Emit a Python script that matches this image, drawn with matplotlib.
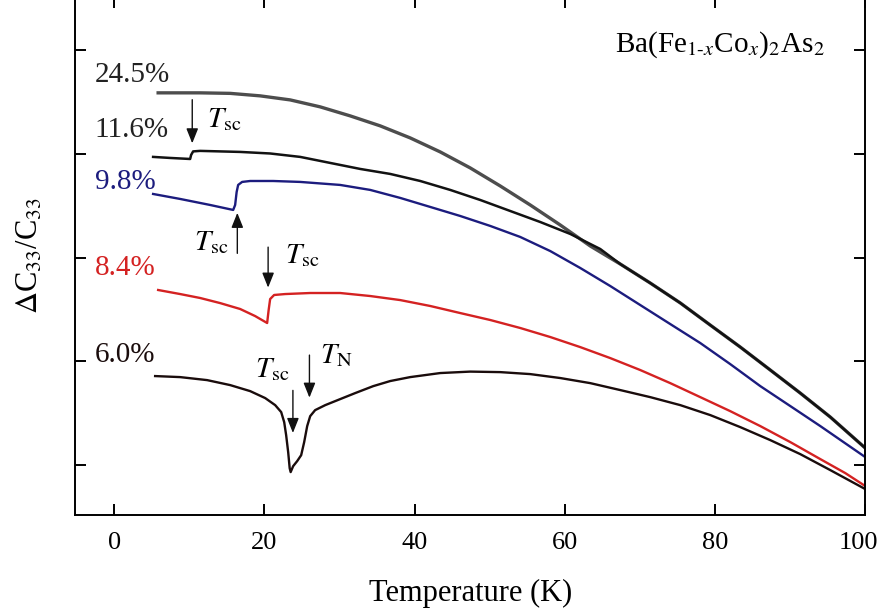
import matplotlib
matplotlib.use("Agg")
import matplotlib.pyplot as plt
import matplotlib.transforms as mtransforms

plt.rcParams['font.family'] = ['Liberation Serif', 'DejaVu Serif']
plt.rcParams['mathtext.fontset'] = 'stix'

# ---- curves: temperature (K) vs. shifted dC33/C33 (offset per doping) ----
T_245 = [5.86, 11.45, 15.45, 19.44, 23.44, 27.43, 31.43, 35.42, 39.41, 43.41, 47.40, 51.40,
         55.39, 59.39, 63.38, 67.38, 71.37, 75.37, 79.36, 83.36, 87.35, 91.34, 95.34, 100.0]
C_245 = [3.586, 3.586, 3.581, 3.557, 3.518, 3.451, 3.364, 3.268, 3.152, 3.017, 2.863, 2.689,
         2.506, 2.313, 2.111, 1.937, 1.754, 1.562, 1.349, 1.137, 0.916, 0.694, 0.463, 0.164]

T_116 = [5.19, 7.46, 10.12, 10.25, 10.52, 11.45, 16.78, 20.77, 24.77, 28.76, 32.76, 36.75,
         40.75, 44.74, 48.74, 52.73, 56.72, 60.72, 64.71,
         67.38, 71.37, 75.37, 79.36, 83.36, 87.35, 91.34, 95.34, 100.0]
C_116 = [2.969, 2.959, 2.949, 2.988, 3.022, 3.027, 3.017, 3.002, 2.969, 2.911, 2.853, 2.805,
         2.737, 2.651, 2.554, 2.448, 2.342, 2.227, 2.082,
         1.937, 1.754, 1.562, 1.349, 1.137, 0.916, 0.694, 0.463, 0.164]

T_98 = [5.19, 8.79, 12.78, 15.85, 16.11, 16.31, 16.51, 17.04, 18.11, 21.17, 24.77, 30.09,
        34.09, 38.08, 42.08, 46.07, 50.07, 54.06, 58.06, 62.05, 66.05, 70.04, 74.03, 78.03,
        82.02, 86.02, 90.01, 94.01, 100.0]
C_98 = [2.612, 2.564, 2.506, 2.458, 2.506, 2.631, 2.699, 2.728, 2.737, 2.737, 2.728, 2.699,
        2.651, 2.574, 2.487, 2.400, 2.304, 2.198, 2.062, 1.899, 1.725, 1.542, 1.359, 1.176,
        0.973, 0.761, 0.569, 0.376, 0.077]

T_84 = [5.86, 8.79, 11.45, 14.11, 16.78, 18.77, 20.37, 20.57, 20.77, 21.30, 22.77, 26.10,
        30.09, 34.09, 38.08, 42.08, 46.07, 50.07, 54.06, 58.06, 62.05, 66.05, 70.04, 74.03,
        78.03, 82.02, 86.02, 90.01, 94.01, 97.34, 100.0]
C_84 = [1.687, 1.648, 1.610, 1.561, 1.504, 1.436, 1.369, 1.494, 1.600, 1.639, 1.648, 1.658,
        1.658, 1.629, 1.590, 1.533, 1.465, 1.398, 1.321, 1.234, 1.137, 1.031, 0.916, 0.790,
        0.655, 0.520, 0.376, 0.222, 0.058, -0.077, -0.202]

T_60 = [5.46, 8.79, 12.38, 15.45, 18.11, 20.11, 21.44, 22.24, 22.64, 22.90, 23.17, 23.37,
        23.50, 23.83, 24.37, 24.90, 25.30, 25.70, 26.10, 26.76, 28.10, 30.09, 32.09, 34.49,
        36.75, 39.41, 43.41, 47.40, 51.40, 55.39, 59.39, 63.38, 67.38, 71.37, 75.37, 79.36,
        83.36, 87.35, 91.34, 95.34, 100.0]
C_60 = [0.858, 0.848, 0.819, 0.771, 0.713, 0.646, 0.578, 0.511, 0.414, 0.289, 0.125, -0.029,
        -0.067, -0.010, 0.039, 0.096, 0.222, 0.376, 0.472, 0.530, 0.578, 0.636, 0.694, 0.761,
        0.810, 0.848, 0.887, 0.901, 0.896, 0.877, 0.839, 0.790, 0.723, 0.655, 0.578, 0.482,
        0.366, 0.241, 0.106, -0.048, -0.231]

LABELS = ['24.5%', '11.6%', '9.8%', '8.4%', '6.0%']
LABEL_Y = [3.76, 3.23, 2.73, 1.90, 1.06]
COLORS = ['#4d4d4d', '#121212', '#1c1c7e', '#d42222', '#1a0c0c']
LABEL_COLORS = ['#222222', '#222222', '#1c1c7e', '#d42222', '#1a0c0c']

# transition markers: (text, text x, text y, arrow x, arrow tail y, arrow tip y)
MARKERS = [
    (r'$T_{\rm sc}$', 12.4, 3.26, 10.4, 3.52, 3.10),
    (r'$T_{\rm sc}$', 10.6, 2.07, 16.4, 2.04, 2.43),
    (r'$T_{\rm sc}$', 22.8, 1.95, 20.5, 2.10, 1.71),
    (r'$T_{\rm sc}$', 18.8, 0.85, 23.8, 0.72, 0.31),
    (r'$T_{\rm N}$', 27.4, 0.98, 26.0, 1.06, 0.65),
]

fig = plt.figure(figsize=(8.83, 6.16), dpi=100)
ax = fig.add_axes([0.085, 0.164, 0.895, 0.841])

series = [(T_245, C_245, 2.4), (T_116, C_116, 1.8), (T_98, C_98, 1.7),
          (T_84, C_84, 1.7), (T_60, C_60, 1.7)]
for (t, c, lw), col in zip(series, COLORS):
    ax.plot(t, c, color=col, lw=lw, solid_joinstyle='round')

for lab, y, col in zip(LABELS, LABEL_Y, LABEL_COLORS):
    ax.text(-2.6, y, lab, color=col, fontsize=21, ha='left', va='center')

for txt, tx, ty, ax_x, y0, y1 in MARKERS:
    ax.text(tx, ty, txt, fontsize=21, ha='left', va='baseline')
    ax.annotate('', xy=(ax_x, y1), xytext=(ax_x, y0),
                arrowprops=dict(arrowstyle='-|>,head_length=0.45,head_width=0.18',
                                color='#111111', lw=1.0, mutation_scale=20,
                                shrinkA=0, shrinkB=0))

ax.text(66.7, 3.98, r'Ba(Fe$_{1\text{-}x}$Co$_{x}$)$_{2}$As$_{2}$', fontsize=21,
        ha='left', va='baseline')

ax.set_xlim(-5.2, 100)
ax.set_ylim(-0.48, 4.51)
ax.set_xticks([0, 20, 40, 60, 80, 100])
ax.set_yticks([0, 1, 2, 3, 4])
ax.tick_params(direction='in', length=8, width=1.4, top=True, right=True,
               labelleft=False, labelsize=19, pad=12)
for sp in ax.spines.values():
    sp.set_linewidth(1.4)

# nudge the last tick label so it stays inside the figure
last = ax.get_xticklabels()[-1]
last.set_transform(last.get_transform() +
                   mtransforms.ScaledTranslation(-0.07, 0, fig.dpi_scale_trans))

ax.set_xlabel('Temperature (K)', fontsize=22, labelpad=18)
ax.set_ylabel(r'$\Delta$C$_{33}$/C$_{33}$', fontsize=22, labelpad=22)

fig.savefig('out.png', dpi=100)
